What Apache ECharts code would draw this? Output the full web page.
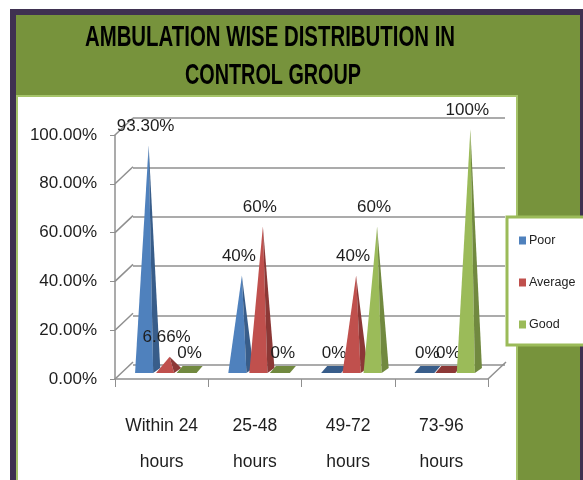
<!DOCTYPE html>
<html>
<head>
<meta charset="utf-8">
<script src="https://cdn.jsdelivr.net/npm/echarts@6/dist/echarts.min.js"></script>
<style>
  html, body { margin: 0; padding: 0; background: #fff; }
  #main { width: 583px; height: 480px; }
</style>
</head>
<body>
<div id="main"></div>
<script>
// data
const categories = ['Within 24\nhours', '25-48\nhours', '49-72\nhours', '73-96\nhours'];
const seriesNames = ['Poor', 'Average', 'Good'];
const poor = [93.3, 40, 0, 0];
const average = [6.66, 60, 40, 0];
const good = [0, 0, 60, 100];
const yTicks = [0, 20, 40, 60, 80, 100];

const FONT = "'Liberation Sans', Arial, sans-serif";
const DX = 18, DY = 17; // depth of the 3d box
const lightCols = ['#4F81BD', '#C0504D', '#9BBB59'];
const darkCols = ['#385D8A', '#8C3836', '#71893F'];

const chart = echarts.init(document.getElementById('main'));

function fmt(v) {
  return Number.isInteger(v) ? v + '%' : v.toFixed(2) + '%';
}

// walls: diagonal lines on the left wall and floor
function renderWalls(params, api) {
  const v = api.value(1);
  const y = api.coord([0, v])[1];
  const cs = params.coordSys;
  const st = { stroke: '#8f8f8f', lineWidth: 1.5 };
  const kids = [{ type: 'line', shape: { x1: cs.x, y1: y, x2: cs.x + DX, y2: y - DY }, style: st }];
  if (v === 0) {
    kids.push({ type: 'line', shape: { x1: cs.x + cs.width, y1: y, x2: cs.x + cs.width + DX, y2: y - DY }, style: st });
  }
  return { type: 'group', children: kids };
}

// one cone series
function coneRenderer(idx) {
  return function (params, api) {
    const cat = api.value(0), v = api.value(1);
    const band = api.size([1, 0])[0];
    const base = api.coord([cat, 0]);
    const top = api.coord([cat, v]);
    const cx = base[0] + (idx - 1) * band * 0.225 + 7;
    const yb = base[1] - 6;
    const ya = top[1] - 6;
    const w = band * 0.27;
    const kids = [];
    let lx, ly;
    if (v === 0) {
      kids.push({
        type: 'polygon',
        shape: { points: [[cx - 13, yb], [cx + 7, yb], [cx + 13, yb - 7], [cx - 7, yb - 7]] },
        style: { fill: darkCols[idx] }
      });
      lx = cx; ly = yb - 20;
    } else {
      const ax = cx + 1;
      const rx = cx + w * 0.22;
      kids.push({
        type: 'polygon',
        shape: { points: [[cx - w / 2, yb], [rx, yb], [ax, ya]] },
        style: { fill: lightCols[idx] }
      });
      kids.push({
        type: 'polygon',
        shape: { points: [[ax, ya], [rx, yb], [cx + w / 2, yb - 5]] },
        style: { fill: darkCols[idx] }
      });
      lx = ax - 3; ly = ya - 19;
    }
    kids.push({
      type: 'text',
      style: {
        text: fmt(v), x: lx, y: ly,
        textAlign: 'center', textVerticalAlign: 'middle',
        align: 'center', verticalAlign: 'middle',
        fill: '#1e1e1e', font: '17px ' + FONT
      },
      z2: 10
    });
    return { type: 'group', children: kids };
  };
}

const values = [poor, average, good];

const option = {
  animation: false,
  backgroundColor: '#fff',
  textStyle: { fontFamily: FONT },
  graphic: [
    { type: 'rect', shape: { x: 10, y: 9, width: 573, height: 471 }, style: { fill: '#3F3151' }, z: -10 },
    { type: 'rect', shape: { x: 16, y: 15, width: 564, height: 465 }, style: { fill: '#77933C' }, z: -9 },
    { type: 'rect', shape: { x: 17, y: 96, width: 500, height: 390 }, style: { fill: '#fff', stroke: '#A6C46A', lineWidth: 2 }, z: -8 },
    {
      type: 'text', x: 270, y: 38, scaleX: 0.68, z: 5,
      style: { text: 'AMBULATION WISE DISTRIBUTION IN', x: 0, y: 0, align: 'center', verticalAlign: 'middle',
        fill: '#000', font: 'bold 30px ' + FONT }
    },
    {
      type: 'text', x: 273, y: 76, scaleX: 0.66, z: 5,
      style: { text: 'CONTROL GROUP', x: 0, y: 0, align: 'center', verticalAlign: 'middle',
        fill: '#000', font: 'bold 30px ' + FONT }
    }
  ],
  legend: {
    data: seriesNames,
    orient: 'vertical',
    left: 507,
    top: 217,
    icon: 'rect',
    itemWidth: 7,
    itemHeight: 8,
    itemGap: 29,
    padding: [17, 14, 14, 12],
    backgroundColor: '#fff',
    borderColor: '#9BBB59',
    borderWidth: 3,
    textStyle: { fontFamily: FONT, fontSize: 12.5, color: '#222', padding: [0, 0, 0, -2] }
  },
  grid: [
    { left: 115, top: 135, width: 373, height: 248 },
    { left: 133, top: 118, width: 372, height: 247 }
  ],
  xAxis: [
    {
      type: 'category', gridIndex: 0, data: categories,
      axisLine: { lineStyle: { color: '#8f8f8f', width: 1.5 } },
      axisTick: { show: true, length: 8, lineStyle: { color: '#8f8f8f' } },
      axisLabel: { color: '#1e1e1e', fontFamily: FONT, fontSize: 17.5, lineHeight: 36, margin: 29, interval: 0 }
    },
    { type: 'category', gridIndex: 1, data: categories, show: false }
  ],
  yAxis: [
    {
      type: 'value', gridIndex: 0, min: 0, max: 100, interval: 20,
      axisLine: { show: true, lineStyle: { color: '#8f8f8f', width: 1.5 } },
      axisTick: { show: true, length: 5, lineStyle: { color: '#8f8f8f' } },
      splitLine: { show: false },
      axisLabel: { color: '#1e1e1e', fontFamily: FONT, fontSize: 17, margin: 18,
        padding: [4, 0, 0, 0],
        formatter: v => v.toFixed(2) + '%' }
    },
    {
      type: 'value', gridIndex: 1, min: 0, max: 100, interval: 20,
      axisLine: { show: false }, axisTick: { show: false }, axisLabel: { show: false },
      splitLine: { show: true, lineStyle: { color: '#8f8f8f', width: 1.5 } }
    }
  ],
  series: [
    {
      type: 'custom', name: 'walls', xAxisIndex: 0, yAxisIndex: 0, silent: true, clip: false, z: 1,
      data: yTicks.map(v => [0, v]),
      renderItem: renderWalls
    }
  ].concat(seriesNames.map((name, i) => ({
    type: 'custom', name: name, xAxisIndex: 0, yAxisIndex: 0, clip: false, z: 3 + i,
    itemStyle: { color: lightCols[i] },
    data: values[i].map((v, j) => [j, v]),
    renderItem: coneRenderer(i)
  })))
};

chart.setOption(option);
</script>
</body>
</html>
